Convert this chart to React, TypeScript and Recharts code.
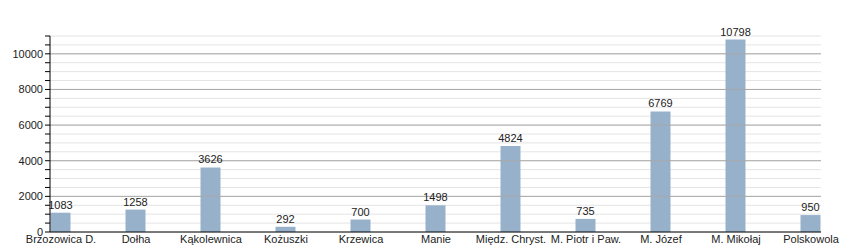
import React from 'react';
import { BarChart, Bar, XAxis, YAxis, CartesianGrid, ReferenceLine, LabelList } from 'recharts';

const categories = ['Brzozowica D.', 'Dołha', 'Kąkolewnica', 'Kożuszki', 'Krzewica', 'Manie', 'Międz. Chryst.', 'M. Piotr i Paw.', 'M. Józef', 'M. Mikołaj', 'Polskowola'];
const values = [1083, 1258, 3626, 292, 700, 1498, 4824, 735, 6769, 10798, 950];
const yTicks = [0, 500, 1000, 1500, 2000, 2500, 3000, 3500, 4000, 4500, 5000, 5500, 6000, 6500, 7000, 7500, 8000, 8500, 9000, 9500, 10000, 10500, 11000];
const majorTicks = [2000, 4000, 6000, 8000, 10000];

const data = categories.map((name, i) => ({ idx: i, name, value: values[i] }));
const xTicks = categories.map((_, i) => i);

const font = '"Liberation Sans", Arial, sans-serif';

export default function App() {
  return (
    <div style={{ position: 'absolute', left: 0, top: 0, width: 850, height: 250, background: '#fff', fontFamily: font }}>
      <BarChart width={850} height={250} data={data} margin={{ top: 36, right: 29, bottom: 0, left: 0 }}>
        <CartesianGrid vertical={false} stroke="#e4e4e4" />
        {majorTicks.map((t) => (
          <ReferenceLine key={t} y={t} stroke="#a8a8a8" />
        ))}
        <XAxis
          dataKey="idx"
          type="number"
          domain={[0, 10]}
          ticks={xTicks}
          padding={{ left: 11, right: 10 }}
          tickFormatter={(v: number) => categories[v] ?? ''}
          height={18}
          tickLine={false}
          tickSize={0}
          tickMargin={3}
          axisLine={{ stroke: '#000' }}
          interval={0}
          tick={{ fontSize: 11, fill: '#222', fontFamily: font }}
        />
        <YAxis
          domain={[0, 11000]}
          ticks={yTicks}
          interval={0}
          width={50}
          tickSize={5}
          tickMargin={2}
          axisLine={{ stroke: '#000' }}
          tickLine={{ stroke: '#000' }}
          tickFormatter={(v: number) => (v % 2000 === 0 && v <= 10000 ? String(v) : '')}
          tick={{ fontSize: 11, fill: '#222', fontFamily: font }}
        />
        <Bar dataKey="value" fill="#97b1cb" barSize={20} isAnimationActive={false}>
          <LabelList dataKey="value" position="top" offset={4} style={{ fontSize: 11, fill: '#222', fontFamily: font }} />
        </Bar>
      </BarChart>
    </div>
  );
}
